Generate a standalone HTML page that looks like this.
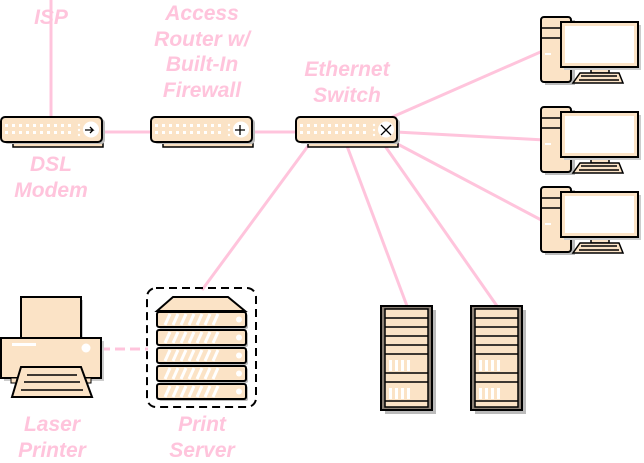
<!DOCTYPE html>
<html><head><style>body{margin:0;background:#fff}svg{display:block}text{font-family:"Liberation Sans",sans-serif;font-weight:bold;font-style:italic;font-size:21px;fill:#ffc4dc;text-anchor:middle}</style></head><body>
<svg width="644" height="463" viewBox="0 0 644 463" xmlns="http://www.w3.org/2000/svg">
<defs>
<g id="dev">
<rect x="12" y="24" width="90" height="6" fill="#f9dfc0" stroke="#000" stroke-width="1.5"/>
<rect x="3" y="2" width="101" height="25" rx="4" fill="#bbb"/>
<rect x="0" y="0" width="101" height="25" rx="4" fill="#fbe3c6" stroke="#000" stroke-width="2"/>
<g stroke="#fff" stroke-width="3" stroke-dasharray="3,4"><line x1="4" y1="8.5" x2="72" y2="8.5"/><line x1="4" y1="15.5" x2="72" y2="15.5"/></g>
<g fill="#fff"><circle cx="78" cy="8" r="1.2"/><circle cx="78" cy="13" r="1.2"/><circle cx="78" cy="18" r="1.2"/><circle cx="90" cy="12.5" r="8"/></g>
</g>
<g id="pc">
<rect x="4" y="3" width="30" height="65" fill="#bbb"/>
<rect x="0" y="0" width="30" height="65" rx="3" fill="#fbe3c6" stroke="#000" stroke-width="2"/>
<line x1="0" y1="11" x2="30" y2="11" stroke="#000" stroke-width="1.5"/><line x1="0" y1="21" x2="30" y2="21" stroke="#000" stroke-width="1.5"/>
<rect x="4" y="36" width="6" height="2" fill="#fff"/>
<rect x="50" y="46" width="18" height="10" fill="#fbe3c6" stroke="#000" stroke-width="1.5"/>
<rect x="23" y="8" width="77" height="45" fill="#ccc"/>
<rect x="20" y="5" width="77" height="45" fill="#fbe3c6" stroke="#000" stroke-width="2"/>
<rect x="24" y="9" width="69" height="37" fill="#fff"/>
<polygon points="39,56 78,56 82,66 32,66" fill="#fbe3c6" stroke="#000" stroke-width="1.5"/>
<g stroke="#000" stroke-width="1.5"><line x1="40" y1="59" x2="76" y2="59"/><line x1="38" y1="63" x2="78" y2="63"/></g>
</g>
<g id="rack">
<rect x="4" y="4" width="51" height="104" fill="#bbb"/>
<rect x="0" y="0" width="51" height="104" fill="#8a7f74" stroke="#000" stroke-width="2"/>
<rect x="4" y="3" width="43" height="98" fill="#fbe3c6" stroke="#000" stroke-width="1.5"/>
<g stroke="#000" stroke-width="1.5"><line x1="4" y1="12" x2="47" y2="12"/><line x1="4" y1="21" x2="47" y2="21"/><line x1="4" y1="30" x2="47" y2="30"/><line x1="4" y1="39" x2="47" y2="39"/><line x1="4" y1="48" x2="47" y2="48"/><line x1="4" y1="67" x2="47" y2="67"/><line x1="4" y1="76" x2="47" y2="76"/><line x1="4" y1="95" x2="47" y2="95"/></g>
<g fill="#fff"><rect x="8" y="54" width="3" height="11"/><rect x="14" y="54" width="3" height="11"/><rect x="20" y="54" width="3" height="11"/><rect x="26" y="54" width="3" height="11"/><rect x="8" y="82" width="3" height="11"/><rect x="14" y="82" width="3" height="11"/><rect x="20" y="82" width="3" height="11"/><rect x="26" y="82" width="3" height="11"/></g>
</g>
<g id="unit"><rect x="2" y="2" width="89" height="15" rx="2" fill="#bbb"/><rect x="0" y="0" width="89" height="15" rx="2" fill="#fbe3c6" stroke="#000" stroke-width="2"/><circle cx="82" cy="7.5" r="3" fill="#fff"/><path d="M8 13l5-11M16 13l5-11M24 13l5-11M32 13l5-11M40 13l5-11M48 13l5-11M56 13l5-11" stroke="#fff" stroke-width="3"/></g>
</defs>
<g stroke="#ffc4dc" stroke-width="3" fill="none">
<line x1="51" y1="0" x2="51" y2="118"/><line x1="103" y1="132" x2="151" y2="132"/><line x1="252" y1="132" x2="296" y2="132"/>
<line x1="390" y1="118" x2="545" y2="50"/><line x1="396" y1="132" x2="545" y2="140"/><line x1="390" y1="140" x2="545" y2="222"/>
<line x1="308" y1="146" x2="202" y2="290"/><line x1="347" y1="146" x2="407" y2="306"/><line x1="385" y1="146" x2="497" y2="306"/>
<line x1="100" y1="349" x2="148" y2="349" stroke-dasharray="10,5"/>
</g>
<use href="#dev" x="1" y="117"/><use href="#dev" x="151" y="117"/><use href="#dev" x="296" y="117"/>
<g fill="none" stroke="#000" stroke-width="1.3"><path d="M85 130h8l-3-3M93 130l-3 3"/><path d="M240 125v10M235 130h10"/><path d="M381 125l10 10M391 125l-10 10"/></g>
<rect x="23" y="300" width="60" height="40" fill="#ccc"/>
<rect x="4" y="341" width="100" height="40" fill="#ccc"/>
<rect x="21" y="297" width="60" height="42" fill="#fbe3c6" stroke="#000" stroke-width="2"/>
<rect x="1" y="338" width="100" height="40" fill="#fbe3c6" stroke="#000" stroke-width="2"/>
<rect x="11" y="378" width="10" height="5" fill="#fbe3c6" stroke="#000"/><rect x="81" y="378" width="10" height="5" fill="#fbe3c6" stroke="#000"/>
<rect x="12" y="343" width="24" height="3" fill="#fff"/><circle cx="86" cy="348" r="4.5" fill="#fff"/>
<polygon points="21,367 81,367 92,397 12,397" fill="#fbe3c6" stroke="#000" stroke-width="2"/>
<g stroke="#000" stroke-width="1.5"><line x1="27" y1="375" x2="77" y2="375"/><line x1="24" y1="382" x2="80" y2="382"/><line x1="21" y1="390" x2="83" y2="390"/></g>
<use href="#pc" x="541" y="17"/><use href="#pc" x="541" y="107"/><use href="#pc" x="541" y="187"/>
<rect x="147" y="288" width="109" height="119" rx="9" fill="none" stroke="#000" stroke-width="2" stroke-dasharray="8,5"/>
<polygon points="173,297 228,297 245,311 157,311" fill="#fbe3c6" stroke="#000" stroke-width="2"/>
<use href="#unit" x="157" y="312"/><use href="#unit" x="157" y="330"/><use href="#unit" x="157" y="348"/><use href="#unit" x="157" y="366"/><use href="#unit" x="157" y="384"/>
<use href="#rack" x="381" y="306"/><use href="#rack" x="471" y="306"/>
<text x="51" y="24">ISP</text>
<text x="202" y="20">Access</text><text x="202" y="46">Router w/</text><text x="202" y="71">Built-In</text><text x="202" y="97">Firewall</text>
<text x="347" y="76">Ethernet</text><text x="347" y="102">Switch</text>
<text x="51" y="171">DSL</text><text x="51" y="197">Modem</text>
<text x="52" y="431">Laser</text><text x="52" y="457">Printer</text>
<text x="202" y="431">Print</text><text x="202" y="457">Server</text>
</svg>
</body></html>
